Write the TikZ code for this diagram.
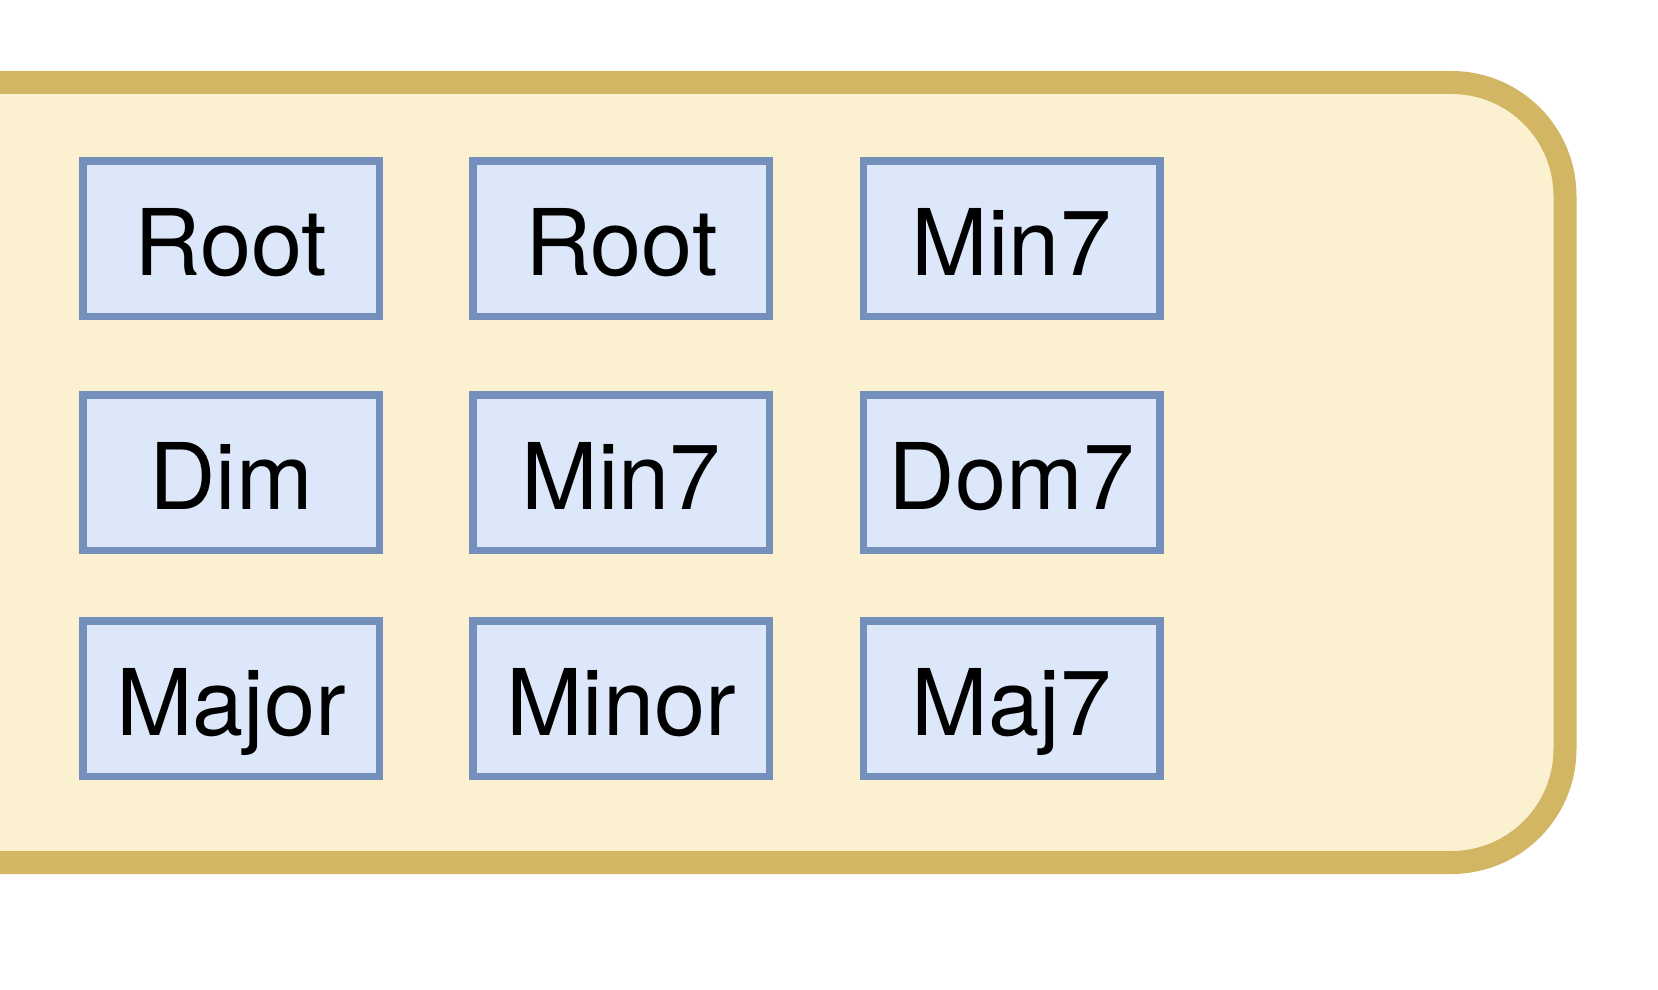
\documentclass[tikz,border=0pt]{standalone}
\usepackage{fontspec}
\setmainfont{TeX Gyre Heros}
\definecolor{panelfill}{RGB}{251,241,208}
\definecolor{paneledge}{RGB}{210,182,100}
\definecolor{chordfill}{RGB}{220,232,250}
\definecolor{chordedge}{RGB}{116,143,187}
\tikzset{
  panel/.style={draw=paneledge, fill=panelfill, line width=23pt, rounded corners=113.5pt},
  chord/.style={draw=chordedge, fill=chordfill, line width=7.5pt,
    minimum width=296.5pt, minimum height=155.5pt, inner sep=0pt,
    text height=73pt, text depth=0pt,
    font=\fontsize{92}{110}\selectfont}
}
\begin{document}
\begin{tikzpicture}[x=1pt,y=-1pt]
  \useasboundingbox (0,0) rectangle (1658,990);
  \clip (0,0) rectangle (1658,990);
  % chord panel
  \draw[panel] (-200,82.5) rectangle (1565,862.5);
  % chord grid
  \node[chord] (r1c1) at (231,238.5) {Root};
  \node[chord] (r1c2) at (621.3,238.5) {Root};
  \node[chord] (r1c3) at (1011.5,238.5) {Min7};
  \node[chord] (r2c1) at (231,472.5) {Dim};
  \node[chord] (r2c2) at (621.3,472.5) {Min7};
  \node[chord] (r2c3) at (1011.5,472.5) {Dom7};
  \node[chord] (r3c1) at (231,698.5) {Major};
  \node[chord] (r3c2) at (621.3,698.5) {Minor};
  \node[chord] (r3c3) at (1011.5,698.5) {Maj7};
\end{tikzpicture}
\end{document}
